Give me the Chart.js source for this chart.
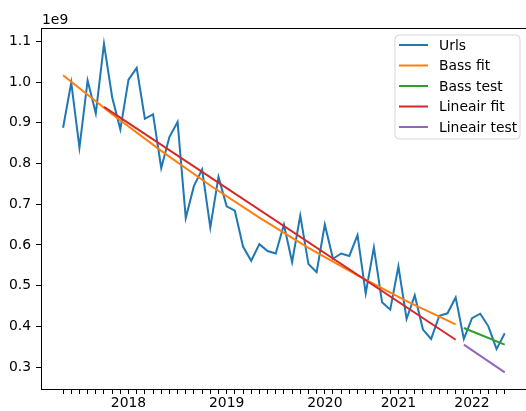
<!DOCTYPE html>
<html>
<head>
<meta charset="utf-8">
<script src="https://cdn.jsdelivr.net/npm/chart.js@4"></script>
<style>
  body { margin: 0; background: #fff; overflow: hidden; }
</style>
</head>
<body>
<canvas id="chart" width="526" height="411"></canvas>
<script>
// values in units of 1e9, one per period (index on the x axis)
const urls = [
  0.888, 0.999, 0.839, 1.004, 0.923, 1.094, 0.963, 0.884, 1.006, 1.035,
  0.910, 0.921, 0.789, 0.865, 0.902, 0.666, 0.745, 0.785, 0.643, 0.767,
  0.695, 0.684, 0.596, 0.561, 0.602, 0.585, 0.579, 0.650, 0.558, 0.672,
  0.553, 0.533, 0.650, 0.566, 0.579, 0.573, 0.624, 0.481, 0.594, 0.459,
  0.441, 0.547, 0.418, 0.476, 0.392, 0.369, 0.426, 0.432, 0.471, 0.369,
  0.420, 0.431, 0.400, 0.344, 0.383
];

const bassFitIdx = [0, 6, 12, 18, 24, 30, 36, 42, 48];
const bassFit = [1.017, 0.921, 0.831, 0.746, 0.667, 0.593, 0.525, 0.462, 0.405];

const bassTestIdx = [49, 54];
const bassTest = [0.396, 0.355];

const linFitIdx = [5, 48];
const linFit = [0.939, 0.367];

const linTestIdx = [49, 54];
const linTest = [0.355, 0.287];

const yearLabels = ['2018', '2019', '2020', '2021', '2022'];
const yearPos = [8, 20, 32, 41, 50];

const yTicks = [0.3, 0.4, 0.5, 0.6, 0.7, 0.8, 0.9, 1.0, 1.1];

const font = { family: 'DejaVu Sans', size: 13.9 };

function pts(idx, vals) {
    return vals.map((v, i) => ({ x: idx[i], y: v }));
}

function line(label, data, color, order) {
    return {
        label: label,
        data: data,
        borderColor: color,
        backgroundColor: color,
        borderWidth: 2,
        pointRadius: 0,
        tension: 0,
        fill: false,
        order: order
    };
}

const mplStyle = {
    id: 'mplStyle',
    afterDraw(chart) {
        const ctx = chart.ctx;
        const a = chart.chartArea;
        ctx.save();
        // top spine
        ctx.strokeStyle = '#000';
        ctx.lineWidth = 1;
        ctx.beginPath();
        ctx.moveTo(a.left, a.top + 0.5);
        ctx.lineTo(a.right, a.top + 0.5);
        ctx.stroke();

        // offset text
        ctx.fillStyle = '#000';
        ctx.font = '13.9px "DejaVu Sans"';
        ctx.textAlign = 'left';
        ctx.textBaseline = 'alphabetic';
        ctx.fillText('1e9', 42, 24);

        // legend
        const bx = 395, by = 35, bw = 125, bh = 104, r = 4;
        ctx.beginPath();
        ctx.moveTo(bx + r, by);
        ctx.arcTo(bx + bw, by, bx + bw, by + bh, r);
        ctx.arcTo(bx + bw, by + bh, bx, by + bh, r);
        ctx.arcTo(bx, by + bh, bx, by, r);
        ctx.arcTo(bx, by, bx + bw, by, r);
        ctx.closePath();
        ctx.fillStyle = 'rgba(255,255,255,0.8)';
        ctx.fill();
        ctx.strokeStyle = 'rgba(204,204,204,0.8)';
        ctx.stroke();

        ctx.textBaseline = 'middle';
        chart.data.datasets.forEach((ds, i) => {
            const y = 45 + i * 20.5;
            ctx.strokeStyle = ds.borderColor;
            ctx.lineWidth = 2;
            ctx.beginPath();
            ctx.moveTo(399, y);
            ctx.lineTo(428, y);
            ctx.stroke();
            ctx.fillStyle = '#000';
            ctx.fillText(ds.label, 439, y + 1);
        });
        ctx.restore();
    }
};

const ctx = document.getElementById('chart').getContext('2d');
const chart = new Chart(ctx, {
    type: 'line',
    data: {
        datasets: [
            line('Urls', urls.map((v, i) => ({ x: i, y: v })), '#1f77b4', 5),
            line('Bass fit', pts(bassFitIdx, bassFit), '#ff7f0e', 4),
            line('Bass test', pts(bassTestIdx, bassTest), '#2ca02c', 3),
            line('Lineair fit', pts(linFitIdx, linFit), '#d62728', 2),
            line('Lineair test', pts(linTestIdx, linTest), '#9467bd', 1)
        ]
    },
    options: {
        responsive: false,
        animation: false,
        layout: { padding: { top: 28, left: 0, right: 0, bottom: 0 } },
        scales: {
            x: {
                type: 'linear',
                min: -2.7,
                max: 56.6,
                afterBuildTicks: s => { s.ticks = urls.map((_, i) => ({ value: i })); },
                afterFit: s => { s.height = 22; },
                ticks: {
                    autoSkip: false,
                    maxRotation: 0,
                    padding: 1,
                    color: '#000',
                    font: font,
                    callback: v => {
                        const k = yearPos.indexOf(v);
                        return k >= 0 ? yearLabels[k] : '';
                    }
                },
                grid: { drawOnChartArea: false, tickLength: 5, tickColor: '#000', tickWidth: 1 },
                border: { color: '#000', width: 1 }
            },
            y: {
                min: 0.246,
                max: 1.133,
                afterBuildTicks: s => { s.ticks = yTicks.map(v => ({ value: v })); },
                afterFit: s => { s.width = 41; },
                ticks: {
                    padding: 5,
                    color: '#000',
                    font: font,
                    callback: v => v.toFixed(1)
                },
                grid: { drawOnChartArea: false, tickLength: 5, tickColor: '#000', tickWidth: 1 },
                border: { color: '#000', width: 1 }
            }
        },
        plugins: {
            legend: { display: false },
            tooltip: { enabled: false }
        }
    },
    plugins: [mplStyle]
});
</script>
</body>
</html>
